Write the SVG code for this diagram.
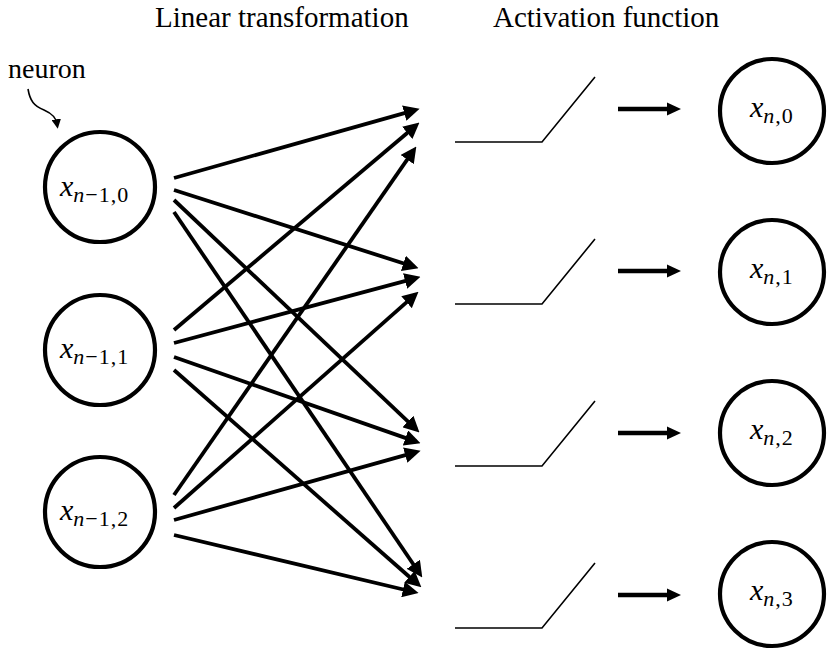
<svg xmlns="http://www.w3.org/2000/svg" width="829" height="657" viewBox="0 0 829 657">
<style>
text{font-family:"Liberation Serif",Tinos,"Times New Roman","DejaVu Serif","Noto Serif",serif;fill:#000}
.hdr{font-size:29px}
.lbl{font-size:28px}
.node{fill:#fff;stroke:#000;stroke-width:4.2}
.m{font-size:30px}
.it{font-style:italic}
.sub{font-size:22px;letter-spacing:1px}
.conn{stroke:#000;stroke-width:3.8;fill:none;marker-end:url(#ah)}
.act{stroke:#000;stroke-width:1.6;fill:none}
.sa{stroke:#000;stroke-width:4.5;fill:none}
.sah{fill:#000}
</style>
<defs>
<marker id="ah" viewBox="0 0 10 10" refX="7" refY="5" markerWidth="4.2" markerHeight="4.2" markerUnits="strokeWidth" orient="auto">
<path d="M0,0 L10,5 L0,10 z" fill="#000"/>
</marker>
<marker id="ahs" viewBox="0 0 10 10" refX="5" refY="5" markerWidth="6" markerHeight="6" markerUnits="strokeWidth" orient="auto">
<path d="M0,0 L10,5 L0,10 z" fill="#000"/>
</marker>
</defs>

<text class="hdr" x="155" y="27" font-family="Liberation Serif, serif">Linear transformation</text>
<text class="hdr" x="493" y="27" font-family="Liberation Serif, serif">Activation function</text>
<text class="lbl" x="8" y="78" font-family="Liberation Serif, serif">neuron</text>
<path d="M28,89 C30,101 34,106 44,110 C53,114 56,118 57,124" stroke="#000" stroke-width="1.6" fill="none" marker-end="url(#ahs)"/>

<g id="connectors">
<line class="conn" x1="174" y1="178" x2="415" y2="110.1"/>
<line class="conn" x1="174" y1="190" x2="414" y2="266.7"/>
<line class="conn" x1="174" y1="200" x2="416" y2="429.1"/>
<line class="conn" x1="174" y1="212" x2="419.6" y2="573.5"/>
<line class="conn" x1="174" y1="330" x2="415.8" y2="125.7"/>
<line class="conn" x1="174" y1="343" x2="415.9" y2="278.1"/>
<line class="conn" x1="174" y1="357" x2="416" y2="441.6"/>
<line class="conn" x1="174" y1="370" x2="417.8" y2="584.2"/>
<line class="conn" x1="174" y1="495" x2="413.6" y2="150.4"/>
<line class="conn" x1="174" y1="508" x2="414.9" y2="294.8"/>
<line class="conn" x1="174" y1="520" x2="416" y2="452.1"/>
<line class="conn" x1="174" y1="535" x2="413.9" y2="592"/>
<g id="out-arrows">
<line class="sa" x1="618" y1="109" x2="668" y2="109"/><polygon class="sah" points="667,102.5 681,109 667,115.5"/>
<line class="sa" x1="618" y1="271" x2="668" y2="271"/><polygon class="sah" points="667,264.5 681,271 667,277.5"/>
<line class="sa" x1="618" y1="433" x2="668" y2="433"/><polygon class="sah" points="667,426.5 681,433 667,439.5"/>
<line class="sa" x1="618" y1="595" x2="668" y2="595"/><polygon class="sah" points="667,588.5 681,595 667,601.5"/>
</g>
</g>

<g id="act0"><polyline class="act" points="455,142 542,142 595,77"/></g>
<g id="act1"><polyline class="act" points="455,304 542,304 595,239"/></g>
<g id="act2"><polyline class="act" points="455,466 542,466 595,401"/></g>
<g id="act3"><polyline class="act" points="455,628 542,628 595,563"/></g>

<g id="in0"><circle class="node" cx="100" cy="187" r="55"/>
<text class="m" x="60" y="196"><tspan class="it">x</tspan><tspan class="sub" dy="6"><tspan class="it">n</tspan>−1,0</tspan></text></g>
<g id="in1"><circle class="node" cx="100" cy="350" r="55"/>
<text class="m" x="60" y="358"><tspan class="it">x</tspan><tspan class="sub" dy="6"><tspan class="it">n</tspan>−1,1</tspan></text></g>
<g id="in2"><circle class="node" cx="100" cy="512" r="55"/>
<text class="m" x="60" y="520"><tspan class="it">x</tspan><tspan class="sub" dy="6"><tspan class="it">n</tspan>−1,2</tspan></text></g>

<g id="out0"><circle class="node" cx="772" cy="111" r="52"/>
<text class="m" x="750" y="117"><tspan class="it">x</tspan><tspan class="sub" dy="6"><tspan class="it">n</tspan>,0</tspan></text></g>
<g id="out1"><circle class="node" cx="772" cy="272" r="52"/>
<text class="m" x="750" y="278"><tspan class="it">x</tspan><tspan class="sub" dy="6"><tspan class="it">n</tspan>,1</tspan></text></g>
<g id="out2"><circle class="node" cx="772" cy="433" r="52"/>
<text class="m" x="750" y="439"><tspan class="it">x</tspan><tspan class="sub" dy="6"><tspan class="it">n</tspan>,2</tspan></text></g>
<g id="out3"><circle class="node" cx="772" cy="594" r="52"/>
<text class="m" x="750" y="600"><tspan class="it">x</tspan><tspan class="sub" dy="6"><tspan class="it">n</tspan>,3</tspan></text></g>
</svg>
